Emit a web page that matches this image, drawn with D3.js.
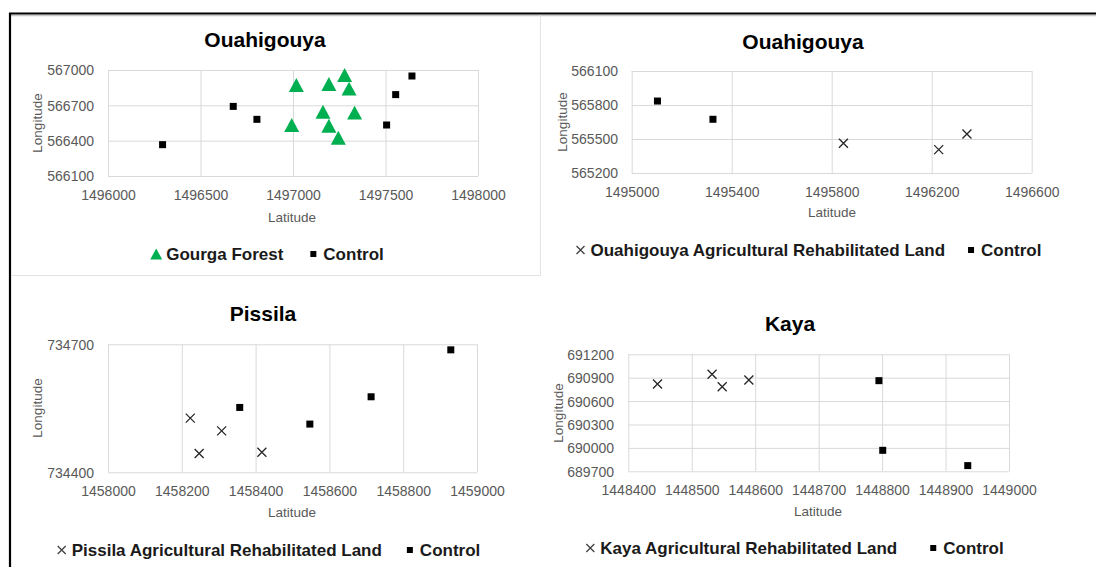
<!DOCTYPE html>
<html><head><meta charset="utf-8">
<script src="https://cdn.jsdelivr.net/npm/d3@7"></script>
<style>
body{margin:0;background:#fff;}
text{font-family:"Liberation Sans",Arial,sans-serif;}
</style></head>
<body><svg id="c" width="1096" height="567"></svg>
<script>
// ---- Data ----
const gourgaLat = [1497018, 1497194, 1497279, 1497303, 1497162, 1497333, 1496993, 1497194, 1497245];
const gourgaLon = [566873, 566881, 566958, 566842, 566646, 566638, 566533, 566527, 566425];
const ouaCtrl1Lat = [1496295, 1496677, 1496805, 1497506, 1497555, 1497643];
const ouaCtrl1Lon = [566366, 566691, 566581, 566533, 566791, 566949];

const ouaAgriLat = [1495847, 1496228, 1496341];
const ouaAgriLon = [565462, 565406, 565544];
const ouaCtrl2Lat = [1495103, 1495325];
const ouaCtrl2Lon = [565835, 565674];

const pisAgriLat = [1458223, 1458308, 1458247, 1458417];
const pisAgriLon = [734527, 734497, 734444, 734447];
const pisCtrlLat = [1458357, 1458547, 1458713, 1458929];
const pisCtrlLon = [734552, 734513, 734577, 734687];

const kayaAgriLat = [1448446, 1448532, 1448548, 1448590];
const kayaAgriLon = [690820, 690944, 690785, 690871];
const kayaCtrlLat = [1448795, 1448801, 1448935];
const kayaCtrlLon = [690862, 689969, 689773];

const p1XTicks = [1496000, 1496500, 1497000, 1497500, 1498000];
const p1YTicks = [566100, 566400, 566700, 567000];
const p2XTicks = [1495000, 1495400, 1495800, 1496200, 1496600];
const p2YTicks = [565200, 565500, 565800, 566100];
const p3XTicks = [1458000, 1458200, 1458400, 1458600, 1458800, 1459000];
const p3YTicks = [734400, 734700];
const p4XTicks = [1448400, 1448500, 1448600, 1448700, 1448800, 1448900, 1449000];
const p4YTicks = [689700, 690000, 690300, 690600, 690900, 691200];

const titles = ["Ouahigouya", "Ouahigouya", "Pissila", "Kaya"];
const legendNames = [
  ["Gourga Forest", "Control"],
  ["Ouahigouya Agricultural Rehabilitated Land", "Control"],
  ["Pissila Agricultural Rehabilitated Land", "Control"],
  ["Kaya Agricultural Rehabilitated Land", "Control"]
];

// ---- Drawing ----
const svg = d3.select("#c");
const GREEN = "#00B050", GRID = "#d9d9d9", LAB = "#595959";
const FONT = "Liberation Sans, Arial, sans-serif";

// frame
svg.append("line").attr("x1", 10).attr("x2", 1096).attr("y1", 15.5).attr("y2", 15.5).attr("stroke", "#c8c8c8").attr("stroke-width", 1.5);
svg.append("line").attr("x1", 9).attr("x2", 1096).attr("y1", 13.5).attr("y2", 13.5).attr("stroke", "#000").attr("stroke-width", 2.2);
svg.append("line").attr("x1", 10).attr("x2", 10).attr("y1", 13).attr("y2", 567).attr("stroke", "#000").attr("stroke-width", 2.2);
svg.append("line").attr("x1", 540.5).attr("x2", 540.5).attr("y1", 15).attr("y2", 275.5).attr("stroke", "#e3e3e3").attr("stroke-width", 1);
svg.append("line").attr("x1", 11).attr("x2", 540.5).attr("y1", 275.5).attr("y2", 275.5).attr("stroke", "#e3e3e3").attr("stroke-width", 1);

function marker(g, type, x, y, big) {
  if (type === "tri") {
    const s = big ? 15 : 12;
    const h = s * 0.93;
    g.append("path").attr("d", `M${x},${y - h / 2}L${x + s / 2},${y + h / 2}L${x - s / 2},${y + h / 2}Z`).attr("fill", GREEN);
  } else if (type === "sq") {
    const s = big ? 7 : 6;
    g.append("rect").attr("x", x - s / 2).attr("y", y - s / 2).attr("width", s).attr("height", s).attr("fill", "#000");
  } else {
    const s = big ? 4.5 : 4;
    g.append("path").attr("d", `M${x - s},${y - s}L${x + s},${y + s}M${x - s},${y + s}L${x + s},${y - s}`)
      .attr("stroke", big ? "#262626" : "#404040").attr("stroke-width", 1.3).attr("fill", "none");
  }
}

function panel(cfg) {
  const g = svg.append("g");
  const x = d3.scaleLinear().domain(d3.extent(cfg.xTicks)).range(cfg.xr);
  const y = d3.scaleLinear().domain(d3.extent(cfg.yTicks)).range(cfg.yr);

  // gridlines via axes
  g.append("g").attr("transform", `translate(0,${cfg.yr[0]})`)
    .call(d3.axisBottom(x).tickValues(cfg.xTicks).tickSize(-(cfg.yr[0] - cfg.yr[1])).tickFormat(""))
    .call(a => a.select(".domain").remove())
    .call(a => a.selectAll("line").attr("stroke", GRID).attr("stroke-width", 1));
  g.append("g").attr("transform", `translate(${cfg.xr[0]},0)`)
    .call(d3.axisLeft(y).tickValues(cfg.yTicks).tickSize(-(cfg.xr[1] - cfg.xr[0])).tickFormat(""))
    .call(a => a.select(".domain").remove())
    .call(a => a.selectAll("line").attr("stroke", GRID).attr("stroke-width", 1));

  // tick labels
  g.append("g").attr("transform", `translate(0,${cfg.xLabY})`)
    .call(d3.axisBottom(x).tickValues(cfg.xTicks).tickSize(0).tickPadding(0).tickFormat(d3.format("d")))
    .call(a => a.select(".domain").remove())
    .call(a => a.selectAll("text").attr("fill", LAB).attr("font-size", 14).attr("font-family", FONT).attr("y", 0).attr("dy", "0.35em"));
  g.append("g").attr("transform", `translate(${cfg.yLabX},0)`)
    .call(d3.axisLeft(y).tickValues(cfg.yTicks).tickSize(0).tickFormat(d3.format("d")))
    .call(a => a.select(".domain").remove())
    .call(a => a.selectAll("text").attr("fill", LAB).attr("font-size", 14).attr("font-family", FONT).attr("x", 0).attr("dy", "0.35em"));

  // axis titles
  g.append("text").attr("x", cfg.latPos[0]).attr("y", cfg.latPos[1]).attr("text-anchor", "middle")
    .attr("dy", "0.35em").attr("font-size", 13.5).attr("fill", LAB).text("Latitude");
  g.append("text").attr("transform", `translate(${cfg.lonPos[0]},${cfg.lonPos[1]}) rotate(-90)`).attr("text-anchor", "middle")
    .attr("dy", "0.35em").attr("font-size", 13.5).attr("fill", LAB).text("Longitude");

  // title
  g.append("text").attr("x", cfg.titlePos[0]).attr("y", cfg.titlePos[1]).attr("text-anchor", "middle")
    .attr("dy", "0.35em").attr("font-size", 21).attr("font-weight", "bold").attr("fill", "#000").text(cfg.title);

  // series
  cfg.series.forEach(s => {
    s.lat.forEach((v, i) => marker(g, s.type, x(v), y(s.lon[i]), true));
  });

  // legend
  const lg = g.append("g");
  let cx = 0;
  cfg.series.forEach((s, i) => {
    const it = lg.append("g").attr("transform", `translate(${cx},0)`);
    marker(it, s.type, 6, 0, false);
    const t = it.append("text").attr("x", 16).attr("dy", "0.35em").attr("font-size", 17)
      .attr("font-weight", "bold").attr("fill", "#1a1a1a").text(cfg.legend[i]);
    const w = 16 + t.node().getComputedTextLength();
    cx += w + cfg.legendGap;
  });
  const total = cx - cfg.legendGap;
  lg.attr("transform", `translate(${cfg.legendPos[0] - total / 2},${cfg.legendPos[1]})`);
}

panel({
  xTicks: p1XTicks, yTicks: p1YTicks, xr: [108, 478], yr: [176, 70],
  xLabY: 195, yLabX: 94, latPos: [292, 217], lonPos: [37, 123], titlePos: [265, 40],
  title: titles[0], legend: legendNames[0], legendPos: [267, 254], legendGap: 24,
  series: [{type: "tri", lat: gourgaLat, lon: gourgaLon}, {type: "sq", lat: ouaCtrl1Lat, lon: ouaCtrl1Lon}]
});
panel({
  xTicks: p2XTicks, yTicks: p2YTicks, xr: [631.7, 1031.7], yr: [173, 71],
  xLabY: 192, yLabX: 618, latPos: [832, 212], lonPos: [562, 122], titlePos: [803, 42],
  title: titles[1], legend: legendNames[1], legendPos: [808, 250], legendGap: 20,
  series: [{type: "x", lat: ouaAgriLat, lon: ouaAgriLon}, {type: "sq", lat: ouaCtrl2Lat, lon: ouaCtrl2Lon}]
});
panel({
  xTicks: p3XTicks, yTicks: p3YTicks, xr: [108, 477], yr: [472.3, 344.3],
  xLabY: 491, yLabX: 94, latPos: [292, 512], lonPos: [37, 408], titlePos: [263, 314],
  title: titles[2], legend: legendNames[2], legendPos: [268, 550], legendGap: 22,
  series: [{type: "x", lat: pisAgriLat, lon: pisAgriLon}, {type: "sq", lat: pisCtrlLat, lon: pisCtrlLon}]
});
panel({
  xTicks: p4XTicks, yTicks: p4YTicks, xr: [628.3, 1009], yr: [471.3, 354.3],
  xLabY: 490, yLabX: 614, latPos: [818, 511], lonPos: [558, 413], titlePos: [790, 324],
  title: titles[3], legend: legendNames[3], legendPos: [794, 548], legendGap: 30,
  series: [{type: "x", lat: kayaAgriLat, lon: kayaAgriLon}, {type: "sq", lat: kayaCtrlLat, lon: kayaCtrlLon}]
});
</script></body></html>
